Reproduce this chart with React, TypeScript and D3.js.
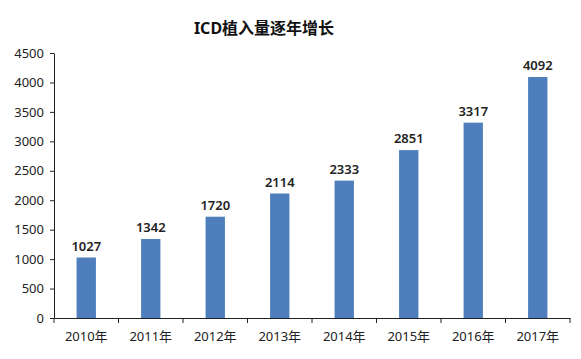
import React, { useEffect, useRef } from "react";
import * as d3 from "d3";

// 카테고리와 값
const years = ["2010年", "2011年", "2012年", "2013年", "2014年", "2015年", "2016年", "2017年"];
const values = [1027, 1342, 1720, 2114, 2333, 2851, 3317, 4092];
const yTicks = [0, 500, 1000, 1500, 2000, 2500, 3000, 3500, 4000, 4500];

const FONT = "'Noto Sans', 'Noto Sans CJK SC', sans-serif";

const App: React.FC = () => {
  const ref = useRef<HTMLDivElement>(null);

  useEffect(() => {
    if (!ref.current) return;
    document.body.style.margin = "0";
    d3.select(ref.current).selectAll("svg").remove();

    const width = 581;
    const height = 359;
    const margin = { top: 53, right: 11, bottom: 41, left: 54 };
    const innerW = width - margin.left - margin.right;
    const innerH = height - margin.top - margin.bottom;

    const svg = d3.select(ref.current)
      .append("svg")
      .attr("width", width)
      .attr("height", height)
      .style("display", "block")
      .style("background", "#fff");

    svg.append("text")
      .attr("x", 264)
      .attr("y", 34)
      .attr("text-anchor", "middle")
      .style("font-family", FONT)
      .style("font-size", "16px")
      .style("font-weight", "700")
      .attr("fill", "#111")
      .text("ICD植入量逐年增长");

    const g = svg.append("g").attr("transform", `translate(${margin.left},${margin.top})`);

    const x = d3.scaleBand<string>().domain(years).range([0, innerW]).padding(0);
    const y = d3.scaleLinear().domain([0, 4500]).range([innerH, 0]);

    const barW = x.bandwidth() * 0.3;

    // 막대
    g.selectAll(".bar")
      .data(values)
      .join("rect")
      .attr("class", "bar")
      .attr("x", (_, i) => x(years[i])! + (x.bandwidth() - barW) / 2)
      .attr("y", d => y(d))
      .attr("width", barW)
      .attr("height", d => innerH - y(d))
      .attr("fill", "#4e7fbc");

    // 값 라벨
    g.selectAll(".val")
      .data(values)
      .join("text")
      .attr("class", "val")
      .attr("x", (_, i) => x(years[i])! + x.bandwidth() / 2)
      .attr("y", d => y(d) - 7)
      .attr("text-anchor", "middle")
      .style("font-family", FONT)
      .style("font-size", "13px")
      .style("font-weight", "600")
      .attr("fill", "#222")
      .text(d => d);

    // y축
    const yAxis = g.append("g")
      .call(d3.axisLeft(y).tickValues(yTicks).tickFormat(d3.format("d")).tickSize(4).tickSizeOuter(0).tickPadding(6));
    yAxis.selectAll("text").style("font-family", FONT).style("font-size", "13px").attr("fill", "#222");
    yAxis.selectAll("line,path").attr("stroke", "#222");

    // x축
    const xAxis = g.append("g")
      .attr("transform", `translate(0,${innerH})`)
      .call(d3.axisBottom(x).tickSize(0).tickPadding(14));
    xAxis.selectAll("text").style("font-family", FONT).style("font-size", "13px").attr("fill", "#222");
    xAxis.select(".domain").attr("stroke", "#222");

    // 카테고리 경계 틱
    g.append("g")
      .selectAll("line")
      .data(d3.range(years.length + 1))
      .join("line")
      .attr("x1", i => i * x.step())
      .attr("x2", i => i * x.step())
      .attr("y1", innerH)
      .attr("y2", innerH + 5)
      .attr("stroke", "#222");
  }, []);

  return <div ref={ref} />;
};

export default App;
